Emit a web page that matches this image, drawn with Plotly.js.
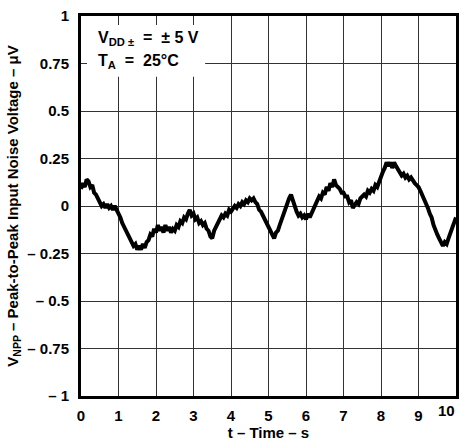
<!DOCTYPE html>
<html>
<head>
<meta charset="utf-8">
<script src="https://cdn.plot.ly/plotly-3.0.1.min.js"></script>
<style>html,body{margin:0;padding:0;background:#fff;}#chart{width:464px;height:444px;}</style>
</head>
<body>
<div id="chart"></div>
<script>
const timeS = [0.00,0.05,0.10,0.15,0.20,0.25,0.30,0.35,0.40,0.45,0.50,0.55,0.60,0.65,0.70,0.75,0.80,0.85,0.90,0.95,
1.00,1.05,1.10,1.15,1.20,1.25,1.30,1.35,1.40,1.45,1.50,1.55,1.60,1.65,1.70,1.75,1.80,1.85,1.90,1.95,
2.00,2.05,2.10,2.15,2.20,2.25,2.30,2.35,2.40,2.45,2.50,2.55,2.60,2.65,2.70,2.75,2.80,2.85,2.90,2.95,
3.00,3.05,3.10,3.15,3.20,3.25,3.30,3.35,3.40,3.45,3.50,3.55,3.60,3.65,3.70,3.75,3.80,3.85,3.90,3.95,
4.00,4.05,4.10,4.15,4.20,4.25,4.30,4.35,4.40,4.45,4.50,4.55,4.60,4.65,4.70,4.75,4.80,4.85,4.90,4.95,
5.00,5.05,5.10,5.15,5.20,5.25,5.30,5.35,5.40,5.45,5.50,5.55,5.60,5.65,5.70,5.75,5.80,5.85,5.90,5.95,
6.00,6.05,6.10,6.15,6.20,6.25,6.30,6.35,6.40,6.45,6.50,6.55,6.60,6.65,6.70,6.75,6.80,6.85,6.90,6.95,
7.00,7.05,7.10,7.15,7.20,7.25,7.30,7.35,7.40,7.45,7.50,7.55,7.60,7.65,7.70,7.75,7.80,7.85,7.90,7.95,
8.00,8.05,8.10,8.15,8.20,8.25,8.30,8.35,8.40,8.45,8.50,8.55,8.60,8.65,8.70,8.75,8.80,8.85,8.90,8.95,
9.00,9.05,9.10,9.15,9.20,9.25,9.30,9.35,9.40,9.45,9.50,9.55,9.60,9.65,9.70,9.75,9.80,9.85,9.90,9.95,10.00];
const noiseUV = [0.09,0.12,0.10,0.14,0.13,0.10,0.11,0.07,0.06,0.04,0.03,0.00,0.01,-0.01,0.01,-0.01,0.00,-0.02,0.00,-0.02,
-0.03,-0.06,-0.09,-0.11,-0.14,-0.15,-0.18,-0.19,-0.21,-0.20,-0.23,-0.21,-0.23,-0.20,-0.22,-0.19,-0.18,-0.15,-0.16,-0.12,
-0.14,-0.10,-0.13,-0.11,-0.14,-0.10,-0.13,-0.11,-0.14,-0.12,-0.13,-0.10,-0.11,-0.08,-0.09,-0.06,-0.07,-0.04,-0.02,-0.05,
-0.04,-0.07,-0.06,-0.09,-0.08,-0.10,-0.09,-0.12,-0.13,-0.16,-0.17,-0.13,-0.11,-0.09,-0.08,-0.05,-0.06,-0.04,-0.05,-0.02,
-0.03,-0.01,0.00,-0.01,0.01,0.00,0.02,0.01,0.03,0.02,0.04,0.03,0.04,0.02,0.01,-0.02,-0.03,-0.05,-0.07,-0.09,
-0.10,-0.13,-0.15,-0.17,-0.14,-0.13,-0.10,-0.07,-0.04,-0.01,0.02,0.04,0.06,0.03,-0.01,-0.03,-0.05,-0.04,-0.06,-0.05,
-0.07,-0.04,-0.06,-0.04,-0.02,0.01,0.02,0.05,0.04,0.07,0.06,0.10,0.08,0.12,0.10,0.14,0.11,0.10,0.09,0.07,
0.07,0.05,0.05,0.02,0.03,-0.01,0.01,0.02,0.01,0.04,0.05,0.06,0.05,0.08,0.07,0.09,0.08,0.11,0.10,0.13,
0.15,0.18,0.20,0.23,0.21,0.23,0.20,0.23,0.21,0.19,0.18,0.16,0.17,0.15,0.16,0.14,0.15,0.13,0.12,0.11,
0.10,0.08,0.06,0.04,0.02,-0.01,-0.04,-0.06,-0.10,-0.13,-0.15,-0.17,-0.19,-0.21,-0.19,-0.20,-0.17,-0.14,-0.11,-0.08,-0.06];
const xTickVals = [0,1,2,3,4,5,6,7,8,9,10];
const xTickText = ['0','1','2','3','4','5','6','7','8','9','10'];
const yTickVals = [1,0.75,0.5,0.25,0,-0.25,-0.5,-0.75,-1];
const yTickText = ['1','0.75','0.5','0.25','0','– 0.25','– 0.5','– 0.75','– 1'];

const fontFam = 'Liberation Sans, Arial, Helvetica, sans-serif';
const lastIdx = xTickVals.length - 1;
// the last x label sits flush with the right border, so it is drawn as an annotation
const xTickTextAxis = xTickText.map((t, i) => i === lastIdx ? '' : t);

const data = [{
  x: timeS, y: noiseUV, type: 'scatter', mode: 'lines',
  line: {color: '#000', width: 4}, hoverinfo: 'skip'
}];
const layout = {
  width: 464, height: 444,
  margin: {l: 81, r: 8, t: 16, b: 48},
  paper_bgcolor: '#fff', plot_bgcolor: '#fff',
  showlegend: false,
  font: {family: fontFam, color: '#000', size: 15},
  xaxis: {
    range: [0, 10], tickvals: xTickVals, ticktext: xTickTextAxis,
    showgrid: true, gridcolor: '#333', gridwidth: 1,
    showline: true, linecolor: '#000', linewidth: 3, mirror: true,
    zeroline: false, ticks: '', ticklabelstandoff: 4,
    tickfont: {family: fontFam, size: 15, color: '#000', weight: 'bold'},
    title: {text: '<b>t – Time – s</b>', font: {family: fontFam, size: 15, color: '#000'}, standoff: 3}
  },
  yaxis: {
    range: [-1, 1], tickvals: yTickVals, ticktext: yTickText,
    showgrid: true, gridcolor: '#333', gridwidth: 1,
    showline: true, linecolor: '#000', linewidth: 3, mirror: true,
    zeroline: false, ticks: '', ticklabelstandoff: 6,
    tickfont: {family: fontFam, size: 15, color: '#000', weight: 'bold'},
    title: {text: '<b>V<sub>NPP</sub> – Peak-to-Peak Input Noise Voltage – μV</b>', font: {family: fontFam, size: 15, color: '#000'}, standoff: 6}
  },
  shapes: [{
    type: 'rect', xref: 'paper', yref: 'paper',
    x0: 0.016, x1: 0.331, y0: 0.84, y1: 0.976,
    fillcolor: '#fff', line: {width: 0}, layer: 'above'
  }],
  annotations: [
    {xref: 'paper', yref: 'paper', x: 0.04, y: 0.942, xanchor: 'left', yanchor: 'middle', showarrow: false,
     text: '<b>V<sub>DD ±</sub>  =  ± 5 V</b>', font: {family: fontFam, size: 16, color: '#000'}},
    {xref: 'paper', yref: 'paper', x: 0.04, y: 0.879, xanchor: 'left', yanchor: 'middle', showarrow: false,
     text: '<b>T<sub>A</sub>  =  25°C</b>', font: {family: fontFam, size: 16, color: '#000'}},
    {xref: 'x', yref: 'paper', x: xTickVals[lastIdx], y: 0, xanchor: 'right', yanchor: 'top',
     xshift: 1, yshift: -4, showarrow: false,
     text: '<b>' + xTickText[lastIdx] + '</b>', font: {family: fontFam, size: 15, color: '#000'}}
  ]
};
Plotly.newPlot('chart', data, layout, {displayModeBar: false, staticPlot: true});
</script>
</body>
</html>
